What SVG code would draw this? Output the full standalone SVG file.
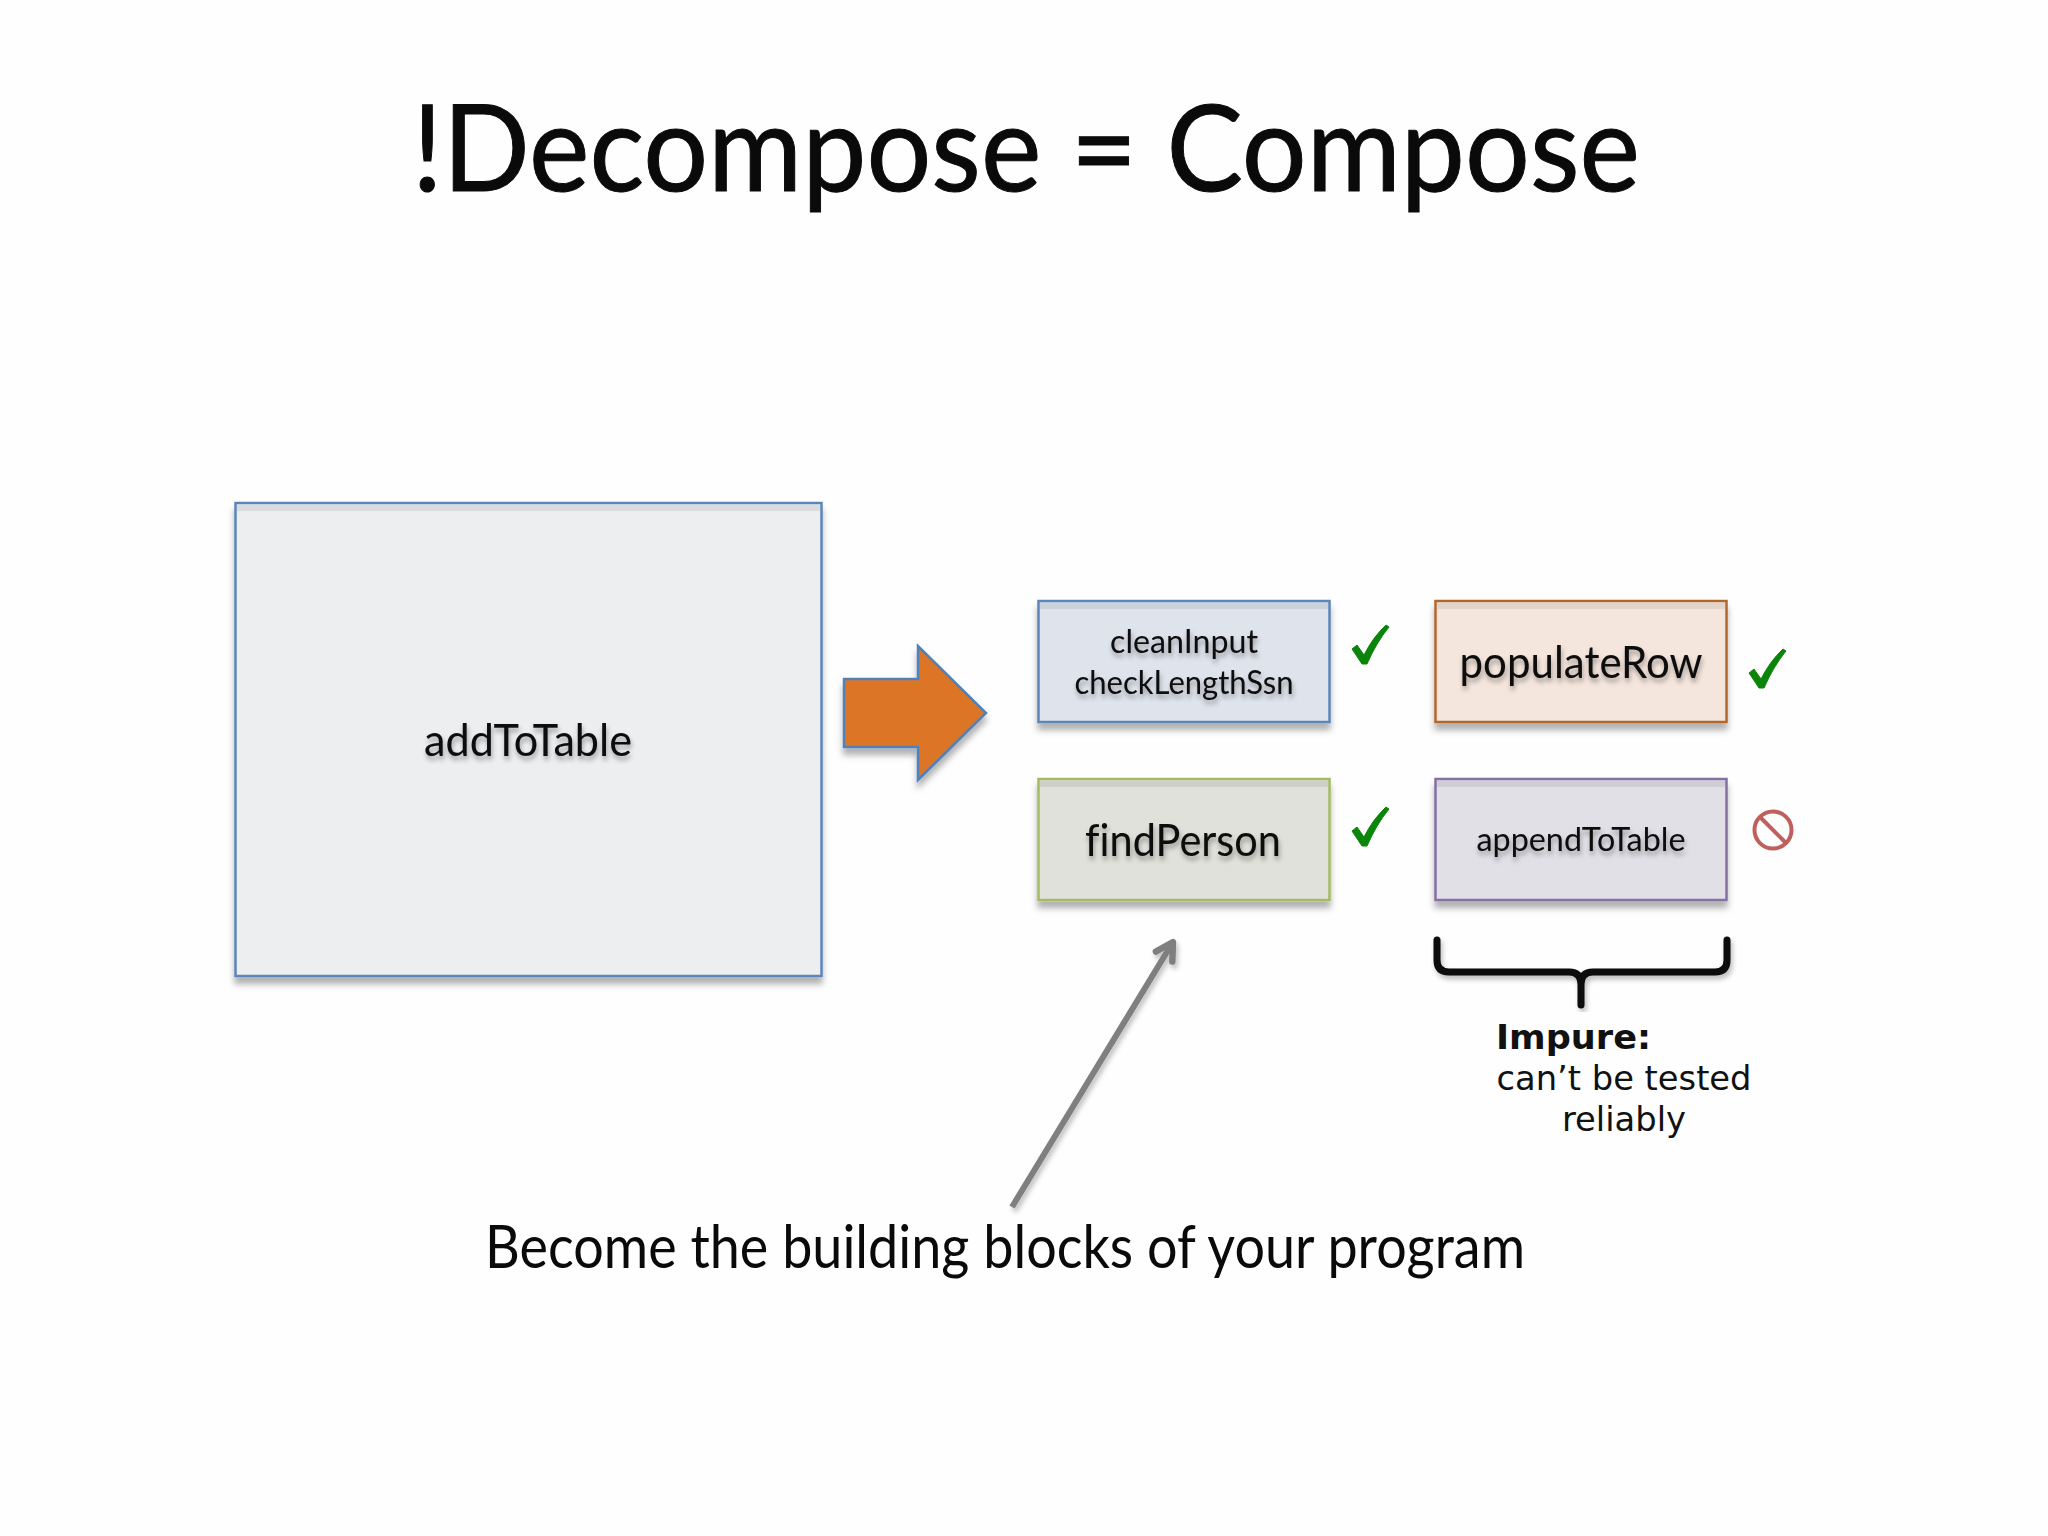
<svg xmlns="http://www.w3.org/2000/svg" width="2048" height="1536" viewBox="0 0 2048 1536">
<style>
.s{font-family:Lato,"Open Sans","Liberation Sans",sans-serif;fill:#0a0a0a;text-anchor:middle;filter:url(#ts);font-variant-ligatures:none}
.b{filter:url(#bs);stroke-width:2.5}
.t{fill:#000;opacity:.08}
.v{font-family:"DejaVu Sans",sans-serif;font-size:34px;fill:#111;text-anchor:middle}
.c{fill:#0a850a;stroke:#0a850a;stroke-width:1;stroke-linejoin:round}
</style>
<defs>
<filter id="bs" x="-10%" y="-10%" width="120%" height="125%"><feDropShadow dx="0" dy="7" stdDeviation="3" flood-color="#000" flood-opacity=".3"/></filter>
<filter id="as" x="-10%" y="-10%" width="130%" height="120%"><feDropShadow dx="2" dy="4" stdDeviation="2.5" flood-color="#000" flood-opacity=".25"/></filter>
<filter id="ts" x="-10%" y="-20%" width="120%" height="150%"><feDropShadow dx="1" dy="4" stdDeviation="2.5" flood-color="#000" flood-opacity=".35"/></filter>
<marker id="ah" markerUnits="userSpaceOnUse" markerWidth="30" markerHeight="30" refX="24" refY="14" orient="auto" viewBox="0 0 28 28"><path d="M8 5L24 14L8 23" fill="none" stroke="#7f7f7f" stroke-width="6" stroke-linecap="round" stroke-linejoin="round"/></marker>
<path id="tick" d="M-18 18L-13 14L-6 24Q3 6 16 -6L19 -4Q6 12 -3 33L-8 33Z"/>
</defs>
<rect width="2048" height="1536" fill="#fefefe"/>
<text id="title" x="1026" y="191" font-family="Lato,'Open Sans',sans-serif" font-size="120" fill="#0a0a0a" text-anchor="middle" textLength="1228" lengthAdjust="spacingAndGlyphs" stroke="#0a0a0a" stroke-width="1">!Decompose = Compose</text>
<g id="addToTable"><rect class="b" x="235.500" y="503" width="586" height="473" fill="#edeef0" stroke="#5b85b8"/><rect class="t" x="237" y="505" width="583" height="6"/><text class="s" x="528" y="756" font-size="45" textLength="208" lengthAdjust="spacingAndGlyphs">addToTable</text></g>
<g id="bigArrow"><path class="b" d="M844 679H918V646L986 713L918 780V747H844Z" fill="#dd7527" stroke="#4f81bd"/></g>
<g id="cleanInput"><rect class="b" x="1038.500" y="601" width="291" height="121" fill="#dfe3ec" stroke="#5b85b8"/><rect class="t" x="1040" y="603" width="288" height="6"/><text class="s" x="1184" y="653" font-size="33" textLength="148" lengthAdjust="spacingAndGlyphs">cleanInput</text><text class="s" x="1184" y="694" font-size="33" textLength="219" lengthAdjust="spacingAndGlyphs">checkLengthSsn</text></g>
<g id="findPerson"><rect class="b" x="1038.500" y="779" width="291" height="121" fill="#dfe1da" stroke="#a3bb63"/><rect class="t" x="1040" y="781" width="288" height="6"/><text class="s" x="1183" y="856" font-size="45" textLength="196" lengthAdjust="spacingAndGlyphs">findPerson</text></g>
<g id="populateRow"><rect class="b" x="1435.500" y="601" width="291" height="121" fill="#f5e6dd" stroke="#b2682c"/><rect class="t" x="1437" y="603" width="288" height="6"/><text class="s" x="1581" y="678" font-size="44" textLength="243" lengthAdjust="spacingAndGlyphs">populateRow</text></g>
<g id="appendToTable"><rect class="b" x="1435.500" y="779" width="291" height="121" fill="#e2e0e7" stroke="#8470a5"/><rect class="t" x="1437" y="781" width="288" height="6"/><text class="s" x="1581" y="851" font-size="33" textLength="209" lengthAdjust="spacingAndGlyphs">appendToTable</text></g>
<g id="check1"><use href="#tick" class="c" x="1370" y="631"/></g>
<g id="check2"><use href="#tick" class="c" x="1370" y="813"/></g>
<g id="check3"><use href="#tick" class="c" x="1767" y="655"/></g>
<g id="prohibit" fill="none" stroke="#c0605c" stroke-width="4"><circle cx="1773" cy="830" r="18.500"/><path d="M1760 817L1786 843"/></g>
<g id="connectors">
<path d="M1012 1207L1173 942" fill="none" stroke="#7f7f7f" stroke-width="6" marker-end="url(#ah)" filter="url(#as)"/>
<path d="M1437 940V960Q1437 972 1449 972H1569Q1581 972 1581 984V1005M1581 984Q1581 972 1593 972H1715Q1727 972 1727 960V940" fill="none" stroke="#0a0a0a" stroke-width="7" stroke-linecap="round" filter="url(#as)"/>
</g>
<g id="impureNote"><text class="v" x="1496" y="1049" style="text-anchor:start;font-weight:bold" textLength="155" lengthAdjust="spacingAndGlyphs">Impure:</text><text class="v" x="1624" y="1090" textLength="255" lengthAdjust="spacingAndGlyphs">can’t be tested</text><text class="v" x="1624" y="1131" textLength="124" lengthAdjust="spacingAndGlyphs">reliably</text></g>
<text id="caption" x="1005" y="1268" font-family="Lato,'Open Sans',sans-serif" font-size="60" fill="#0a0a0a" text-anchor="middle" textLength="1040" lengthAdjust="spacingAndGlyphs">Become the building blocks of your program</text>
</svg>
